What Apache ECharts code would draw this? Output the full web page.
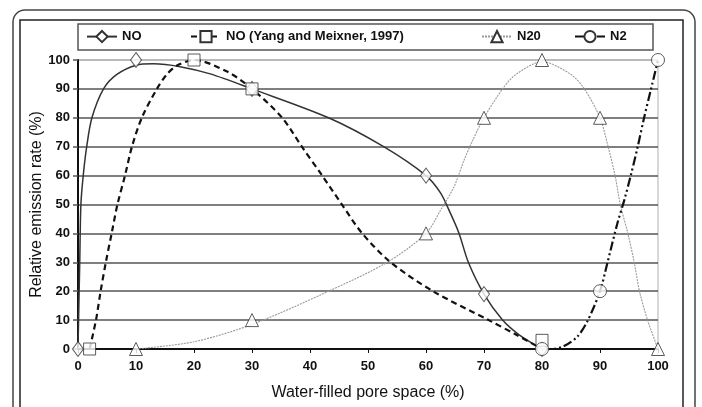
<!DOCTYPE html>
<html>
<head>
<meta charset="utf-8">
<script src="https://cdn.jsdelivr.net/npm/echarts@6/dist/echarts.min.js"></script>
<style>
	html, body{ margin:0; padding:0; background:#fff; }
	#chart{ width:702px; height:407px; }
</style>
</head>
<body>
<div id="chart"></div>
<script>
// tick labels
var xTicks = [0, 10, 20, 30, 40, 50, 60, 70, 80, 90, 100];
var yTicks = [0, 10, 20, 30, 40, 50, 60, 70, 80, 90, 100];

// measured points (markers)
var noPoints = [[0, 0], [10, 100], [30, 90], [60, 60], [70, 19], [80, 0]];
var yangPoints = [[2, 0], [20, 100], [30, 90], [80, 3]];
var n20Points = [[10, 0], [30, 10], [60, 40], [70, 80], [80, 100], [90, 80], [100, 0]];
var n2Points = [[80, 0], [90, 20], [100, 100]];

// fitted curves
var noCurve = [[0, 0], [0.3, 30], [0.5, 50], [0.9, 60], [1.5, 70], [2.4, 80], [4.4, 90], [6.7, 95], [10, 98.2],
	[13, 98.7], [17.6, 97.7], [22.8, 95.2], [30, 90], [43.2, 80], [52.7, 70], [60, 60], [62.5, 54], [64.2, 47],
	[65.7, 40], [67.3, 30], [70, 19], [73.2, 10], [76, 5], [80, 0]];
var yangCurve = [[2, 0], [3.1, 10], [3.9, 20], [4.8, 30], [5.8, 40], [6.8, 50], [8.1, 60], [9.3, 70], [11, 80],
	[13.6, 90], [15.3, 95], [17, 98], [20, 100], [25.7, 96], [30, 90], [35.2, 80], [38.6, 70], [42.1, 60],
	[45.5, 50], [49, 40], [53.9, 30], [61.2, 20], [70.8, 10], [75.5, 5], [80, 0]];
var n20Curve = [[10, 0], [20, 2.5], [30, 8.5], [43.2, 20], [53.3, 30], [60, 40], [62.5, 48], [64.8, 56],
	[66.5, 65], [68, 72], [70, 80], [73.2, 90], [75.5, 95], [80, 99.4], [85, 95], [87.3, 90], [90, 80], [91.4, 70],
	[92.6, 60], [93.5, 50], [94.8, 40], [95.9, 30], [96.8, 20], [98.2, 10], [100, 0]];
var n2Curve = [[80, 0], [81.5, 0], [83.8, 1], [86.1, 4.3], [87.8, 9.5], [90, 20], [91.3, 30], [93, 43.5],
	[94.2, 51.6], [95.3, 60], [96.5, 70], [97.6, 80], [98.8, 90], [100, 100]];

var seriesNames = ['NO', 'NO (Yang and Meixner, 1997)', 'N20', 'N2'];

var FONT = '"Liberation Sans", Arial, sans-serif';

var markerStyle = { color:'#fff', borderColor:'#333', borderWidth:1 };

var makeSeries = function(name, curve, points, symbol, size, lineStyle){
	return [
		{
			name:name,
			type:'line',
			data:curve,
			smooth:0.3,
			showSymbol:false,
			symbol:symbol,
			symbolSize:size,
			lineStyle:lineStyle,
			itemStyle:markerStyle,
			silent:true,
			z:2
		},
		{
			name:name,
			type:'scatter',
			data:points,
			symbol:symbol,
			symbolSize:size,
			itemStyle:markerStyle,
			clip:false,
			z:3
		}
	];
};

var legendAt = function(name, left){
	return {
		data:[name],
		left:left,
		top:30,
		padding:0,
		itemWidth:30,
		itemHeight:14,
		itemGap:5,
		selectedMode:false,
		textStyle:{ fontFamily:FONT, fontWeight:'bold', fontSize:13, color:'#111' }
	};
};

var series = [].concat(
	makeSeries( seriesNames[0], noCurve, noPoints, 'diamond', [11, 15], { color:'#333', width:1.5, type:'solid' } ),
	makeSeries( seriesNames[1], yangCurve, yangPoints, 'rect', 12, { color:'#111', width:2.2, type:[6, 4] } ),
	makeSeries( seriesNames[2], n20Curve, n20Points, 'triangle', [13, 13], { color:'#9a9a9a', width:1.1, type:[2, 1] } ),
	makeSeries( seriesNames[3], n2Curve, n2Points, 'circle', 13, { color:'#111', width:2.2, type:[9, 3, 2, 3, 2, 3] } )
);

var chart = echarts.init( document.getElementById( 'chart' ), null, { renderer:'canvas' } );

chart.setOption( {
	animation:false,
	backgroundColor:'#fff',
	graphic:[
		{ type:'rect', shape:{ x:13, y:10, width:682, height:430, r:12 }, style:{ fill:'none', stroke:'#444', lineWidth:1.5 }, silent:true },
		{ type:'rect', shape:{ x:20, y:20, width:663, height:420 }, style:{ fill:'none', stroke:'#222', lineWidth:1.5 }, silent:true },
		{ type:'rect', shape:{ x:78, y:24, width:575, height:26 }, style:{ fill:'#fff', stroke:'#555', lineWidth:1.5 }, silent:true, z:-1 }
	],
	legend:[
		legendAt( seriesNames[0], 86 ),
		legendAt( seriesNames[1], 190 ),
		legendAt( seriesNames[2], 481 ),
		legendAt( seriesNames[3], 574 )
	],
	grid:{
		left:78,
		right:44,
		top:60,
		bottom:58,
		show:true,
		borderColor:'#b0b0b0',
		borderWidth:1
	},
	xAxis:{
		type:'value',
		min:xTicks[0],
		max:xTicks[xTicks.length - 1],
		interval:10,
		name:'Water-filled pore space (%)',
		nameLocation:'middle',
		nameGap:36,
		nameMoveOverlap:false,
		nameTextStyle:{ fontFamily:FONT, fontSize:16, color:'#111' },
		axisLine:{ lineStyle:{ color:'#111', width:2 } },
		axisTick:{ length:4, lineStyle:{ color:'#111', width:1 } },
		axisLabel:{ margin:11, fontFamily:FONT, fontWeight:'bold', fontSize:13, color:'#111' },
		splitLine:{ show:false }
	},
	yAxis:{
		type:'value',
		min:yTicks[0],
		max:yTicks[yTicks.length - 1],
		interval:10,
		name:'Relative emission rate (%)',
		nameLocation:'middle',
		nameGap:33,
		nameMoveOverlap:false,
		nameTextStyle:{ fontFamily:FONT, fontSize:16, color:'#111' },
		axisLine:{ show:true, lineStyle:{ color:'#111', width:2 } },
		axisTick:{ show:true, length:5, lineStyle:{ color:'#555', width:1.5 } },
		axisLabel:{ margin:8, fontFamily:FONT, fontWeight:'bold', fontSize:13, color:'#111' },
		splitLine:{
			show:true,
			lineStyle:{
				color:['#555', '#555', '#555', '#555', '#555', '#555', '#555', '#555', '#555', '#555', '#b0b0b0'],
				width:1.5
			}
		}
	},
	series:series
} );
</script>
</body>
</html>
